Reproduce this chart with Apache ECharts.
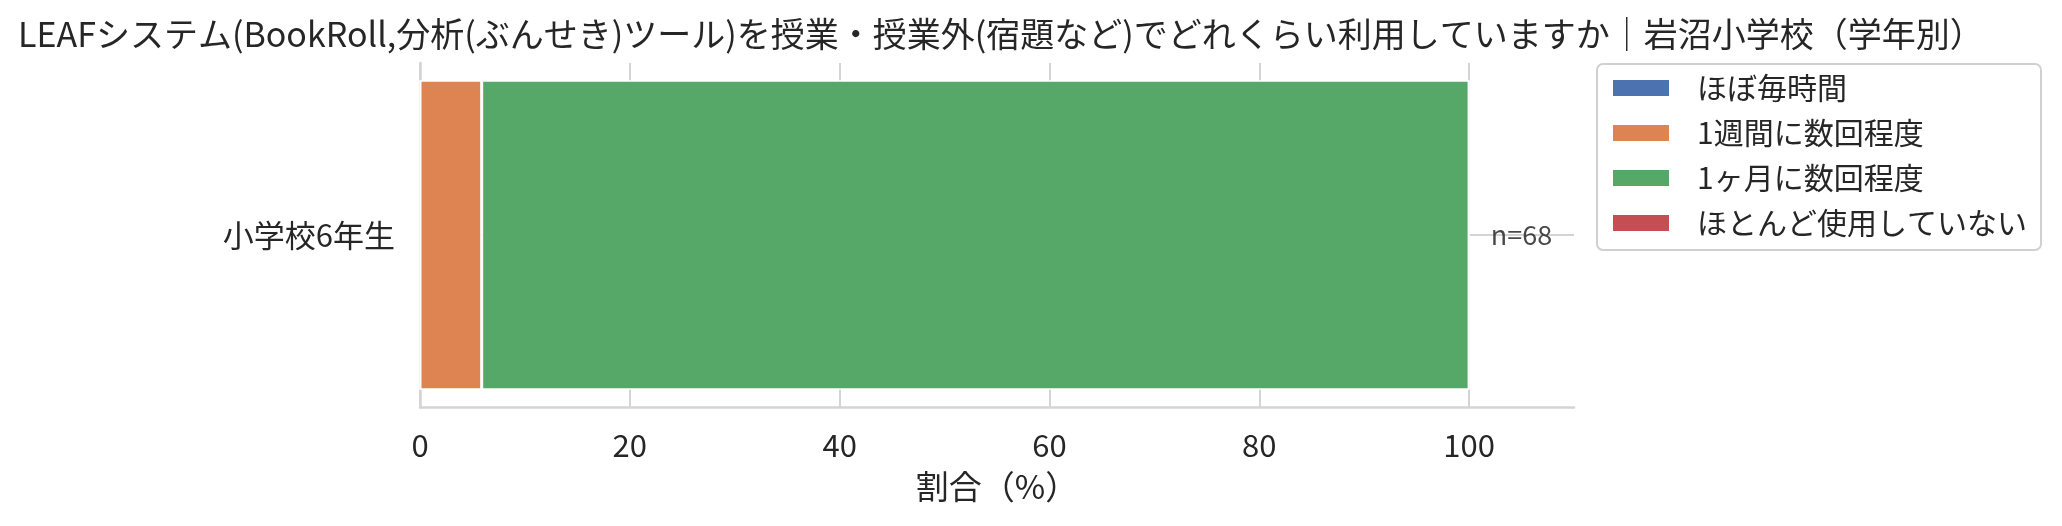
<!DOCTYPE html>
<html><head><meta charset="utf-8">
<script src="https://cdn.jsdelivr.net/npm/echarts@6/dist/echarts.min.js"></script>
<style>html,body{margin:0;padding:0;background:#fff}#c{width:2062px;height:526px}</style>
</head><body><div id="c"></div>
<script>
const titleText = 'LEAFシステム(BookRoll,分析(ぶんせき)ツール)を授業・授業外(宿題など)でどれくらい利用していますか｜岩沼小学校（学年別）';
const categories = ['小学校6年生'];
const seriesNames = ['ほぼ毎時間', '1週間に数回程度', '1ヶ月に数回程度', 'ほとんど使用していない'];
const seriesValues = [[0], [5.88], [94.12], [0]];
const sampleSizes = [68];
const xTicks = [0, 20, 40, 60, 80, 100];
const colors = ['#4c72b0', '#dd8452', '#55a868', '#c44e52'];
const FONT = '"Noto Sans CJK JP", sans-serif';
const TXT = '#262626';
const GRID = '#d4d4d4';

const chart = echarts.init(document.getElementById('c'), null, {renderer: 'canvas'});
const series = seriesNames.map((name, i) => ({
  name, type: 'bar', stack: 'total', data: seriesValues[i],
  itemStyle: {color: colors[i], borderColor: '#fff', borderWidth: 1.5},
  barCategoryGap: '10%', z: 3
}));
series.push({
  name: 'grid', type: 'line', data: [], z: 1, silent: true,
  markLine: {
    z: 1, silent: true, symbol: 'none', label: {show: false},
    lineStyle: {color: GRID, width: 2, type: 'solid'},
    data: xTicks.map(v => ({xAxis: v})).concat(categories.map(c => ({yAxis: c})))
  }
});
series.push({
  name: 'n', type: 'scatter', symbolSize: 0, z: 6, silent: true,
  data: categories.map((c, i) => [105, c]),
  label: {show: true, position: 'inside', formatter: p => 'n=' + sampleSizes[p.dataIndex],
    fontFamily: FONT, fontSize: 27, color: '#1a1a1a'}
});
chart.setOption({
  animation: false,
  color: colors,
  title: {text: titleText, left: 18, top: 17, padding: 0,
    textStyle: {fontFamily: FONT, fontSize: 34, fontWeight: 'normal', color: TXT}},
  legend: {
    data: seriesNames, orient: 'vertical', left: 1597, top: 64,
    padding: [9, 14, 12, 14], itemWidth: 58, itemHeight: 18, itemGap: 15,
    borderColor: '#d0d0d0', borderWidth: 2, borderRadius: 6,
    icon: 'rect',
    textStyle: {fontFamily: FONT, fontSize: 30, lineHeight: 30, color: TXT, padding: [0, 0, 0, 22]}
  },
  grid: {left: 420, right: 488, top: 63, bottom: 119, containLabel: false},
  xAxis: {
    type: 'value', min: 0, max: 110, interval: 20,
    name: '割合（%）', nameLocation: 'middle', nameGap: 63,
    nameTextStyle: {fontFamily: FONT, fontSize: 33, color: TXT},
    axisLine: {show: true, lineStyle: {color: GRID, width: 2.5}},
    axisTick: {show: false},
    splitLine: {show: false},
    axisLabel: {fontFamily: FONT, fontSize: 31, color: TXT, margin: 23, showMaxLabel: false}
  },
  yAxis: {
    type: 'category', data: categories,
    axisLine: {show: true, lineStyle: {color: GRID, width: 2.5}},
    axisTick: {show: false},
    splitLine: {show: false},
    axisLabel: {fontFamily: FONT, fontSize: 31, color: TXT, margin: 25}
  },
  series
});
</script></body></html>
